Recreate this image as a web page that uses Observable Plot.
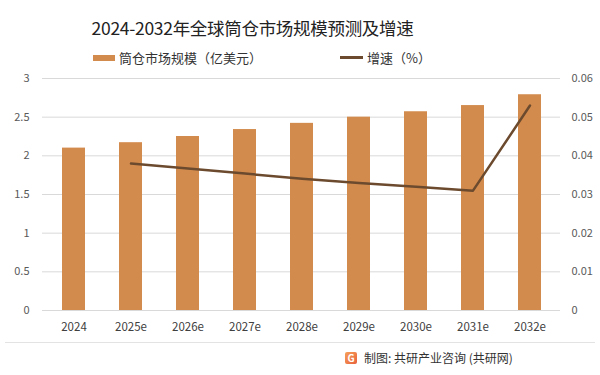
<!DOCTYPE html>
<html><head><meta charset="utf-8">
<script src="https://cdn.jsdelivr.net/npm/d3@7"></script>
<script src="https://cdn.jsdelivr.net/npm/@observablehq/plot@0.6"></script>
<style>
body{margin:0;background:#fff;font-family:"Noto Sans CJK SC","Noto Sans",sans-serif;}
#wrap{position:relative;width:600px;height:375px;overflow:hidden;}
#title{position:absolute;left:0;width:505px;top:15px;text-align:center;font-size:17.5px;color:#222;letter-spacing:-0.3px;}
.leg{position:absolute;top:48px;font-size:13px;color:#333;display:flex;align-items:center;}
.sw{display:inline-block;margin-right:4px;}
#chart{position:absolute;left:0;top:50px;}
#sep{position:absolute;left:5px;right:5px;top:342px;border-top:1px solid #e3e3e3;}
#foot{position:absolute;left:345px;top:349px;font-size:12px;color:#333;display:flex;align-items:center;}
#logo{width:12px;height:12px;background:linear-gradient(135deg,#f6a05a,#e8613c);color:#fff;font-size:10px;line-height:12px;text-align:center;font-weight:bold;margin-right:7px;border-radius:2px;}
</style></head><body>
<div id="wrap">
<div id="title">2024-2032年全球筒仓市场规模预测及增速</div>
<div class="leg" style="left:93px;"><span class="sw" style="width:22px;height:6px;background:#D38B4D;"></span>筒仓市场规模（亿美元）</div>
<div class="leg" style="left:340px;"><span class="sw" style="width:23px;height:3px;background:#6B4A2E;"></span>增速（%）</div>
<div id="chart"></div>
<div id="sep"></div>
<div id="foot"><span id="logo">G</span>制图: 共研产业咨询 (共研网)</div>
</div>
<script>
const years = ["2024","2025e","2026e","2027e","2028e","2029e","2030e","2031e","2032e"];
const marketSize = [2.1, 2.17, 2.25, 2.34, 2.42, 2.5, 2.57, 2.65, 2.79];
const growthYears = ["2025e","2026e","2027e","2028e","2029e","2030e","2031e","2032e"];
const growthRate = [0.038, 0.0367, 0.0354, 0.0341, 0.033, 0.032, 0.031, 0.053];
const leftTicks = [0, 0.5, 1, 1.5, 2, 2.5, 3];
const rightTicks = [0, 0.01, 0.02, 0.03, 0.04, 0.05, 0.06];

const ratio = 3 / 0.06;
const bars = years.map((y, i) => ({year: y, value: marketSize[i]}));
const line = growthYears.map((y, i) => ({year: y, g: growthRate[i]}));

const chart = Plot.plot({
  width: 600, height: 300,
  marginTop: 28, marginBottom: 40, marginLeft: 42, marginRight: 40,
  style: {fontFamily: "'Noto Sans CJK SC','Noto Sans',sans-serif", fontSize: "11px", color: "#595959", background: "transparent"},
  x: {domain: years, paddingInner: 0.6, paddingOuter: 0.3, label: null},
  y: {domain: [0, 3], label: null},
  marks: [
    Plot.ruleY(leftTicks, {stroke: "#d9d9d9", strokeWidth: 1}),
    Plot.barY(bars, {x: "year", y: "value", fill: "#D38B4D"}),
    Plot.line(line, {x: "year", y: d => d.g * ratio, stroke: "#6B4A2E", strokeWidth: 2.5}),
    Plot.axisY({ticks: leftTicks, tickFormat: d => String(d), tickSize: 0, tickPadding: 13, label: null, anchor: "left", fill: "#595959", fontSize: 11}),
    Plot.axisY({ticks: rightTicks.map(t => t * ratio), tickFormat: d => d === 0 ? "0" : (d / ratio).toFixed(2), tickSize: 0, tickPadding: 11, label: null, anchor: "right", fill: "#595959", fontSize: 11}),
    Plot.axisX({tickSize: 0, tickPadding: 12, label: null, fill: "#404040", fontSize: 11.5})
  ]
});
document.getElementById("chart").appendChild(chart);
</script>
</body></html>
